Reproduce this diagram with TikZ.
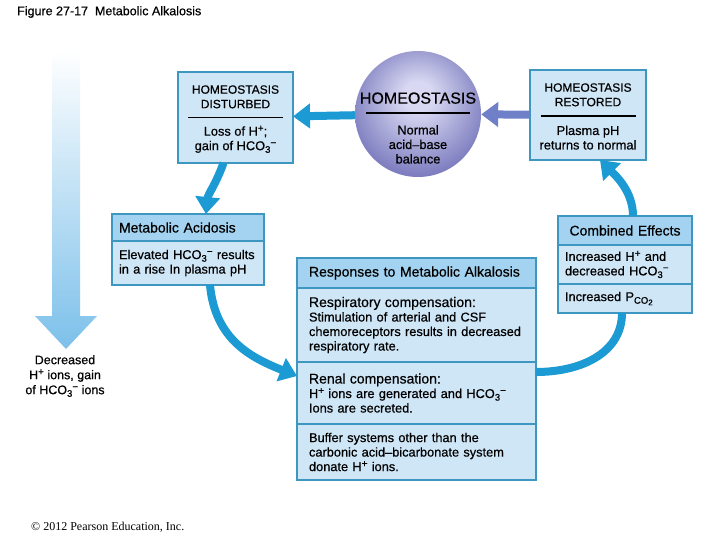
\documentclass[tikz,border=0pt]{standalone}
\usepackage{fontspec}
\setmainfont{Liberation Sans}[FakeBold=0.5]
\newfontfamily\copyfont{Liberation Serif}
\usepackage{tikz}
\usetikzlibrary{arrows.meta,positioning}
\definecolor{boxfill}{RGB}{207,230,247}
\definecolor{headfill}{RGB}{163,211,240}
\definecolor{boxline}{RGB}{61,151,192}
\definecolor{flowblue}{RGB}{27,154,211}
\definecolor{restarrow}{RGB}{112,128,200}
\definecolor{sphlight}{RGB}{216,216,242}
\definecolor{sphdark}{RGB}{104,104,180}
\definecolor{bigarrow}{RGB}{124,192,234}
\pgfdeclareradialshading{sphere}{\pgfpoint{0bp}{8bp}}{color(0bp)=(sphlight); color(6bp)=(sphlight); color(33bp)=(sphdark); color(50bp)=(sphdark)}
\newcommand{\supsm}[1]{\raisebox{4.2pt}{\fontsize{10}{10}\selectfont #1}}
\newcommand{\subsm}[1]{\raisebox{-2.6pt}{\fontsize{9.5}{10}\selectfont #1}}
\newcommand{\hion}{H\supsm{+}}
\newcommand{\hcoion}{HCO\subsm{3}\supsm{−}}
\newcommand{\bodysize}{\fontsize{12.8}{14.5}\selectfont}
\newcommand{\titlesize}{\fontsize{12}{14.5}\selectfont}
\newcommand{\headsize}{\fontsize{14}{15}\selectfont}
\newcommand{\homesize}{\fontsize{16}{18}\selectfont}

\begin{document}
\begin{tikzpicture}[x=1pt,y=-1pt,
sect/.style={draw=boxline, line width=1.4pt, fill=boxfill, outer sep=0pt, inner ysep=0pt, align=left, font=\bodysize},
head/.style={sect, fill=headfill, font=\headsize},
homebox/.style={draw=boxline, line width=1.4pt, fill=boxfill, outer sep=0pt},
txt/.style={inner sep=0pt, align=center, font=\bodysize},
ttl/.style={inner sep=0pt, align=center, font=\titlesize},
sep/.style={line width=1.6pt, black},
flow/.style={line width=8pt, flowblue, -{Triangle[length=17pt,width=24pt]}},
flowline/.style={line width=8pt, flowblue}
]
\fill[white] (0,0) rectangle (720,540);
\useasboundingbox (0,0) rectangle (720,540);

\node[anchor=west, inner sep=0pt, font=\fontsize{12.5}{14}\selectfont] (fig) at (17,12) {Figure 27-17\ \ Metabolic Alkalosis};

% top row
\node[homebox, minimum width=115pt, minimum height=91pt] (dist) at (235.5,117.5) {};
\node[ttl, above=9pt of dist.center] (distt) {HOMEOSTASIS\\DISTURBED};
\node[txt, below=8pt of dist.center] (distb) {Loss of \hion;\\gain of \hcoion};
\draw[sep] ([xshift=-47.5pt]dist.center) -- ([xshift=47.5pt]dist.center);

\node[circle, shade, shading=sphere, minimum size=126pt] (home) at (418,114) {};
\node[inner sep=0pt, font=\homesize, above=10pt of home.center] (homet) {HOMEOSTASIS};
\node[txt, below=11pt of home.center] (homeb) {Normal\\acid–base\\balance};
\draw[sep] ([xshift=-52pt,yshift=1pt]home.center) -- ([xshift=52pt,yshift=1pt]home.center);

\node[homebox, minimum width=116pt, minimum height=90pt] (rest) at (588,115) {};
\node[ttl, above=8.5pt of rest.center] (restt) {HOMEOSTASIS\\RESTORED};
\node[txt, below=10.5pt of rest.center] (restb) {Plasma pH\\returns to normal};
\draw[sep] ([xshift=-47.5pt,yshift=-1pt]rest.center) -- ([xshift=47.5pt,yshift=-1pt]rest.center);

% metabolic acidosis
\node[head, text width=138pt, inner xsep=7pt, minimum height=27pt] (acidh) at (188,227.5) {Metabolic Acidosis};
\node[sect, text width=138pt, inner xsep=7pt, minimum height=44pt, below=0pt of acidh] (acid) {Elevated \hcoion{} results\\in a rise In plasma pH};

% combined effects
\node[head, text width=120pt, inner xsep=7pt, minimum height=29pt, align=center] (combh) at (625,230.5) {Combined Effects};
\node[sect, text width=120pt, inner xsep=7pt, minimum height=39pt, below=0pt of combh] (combm) {Increased \hion{} and\\decreased \hcoion};
\node[sect, text width=120pt, inner xsep=7pt, minimum height=29pt, below=0pt of combm] (combb) {Increased P\subsm{CO\raisebox{-1.5pt}{\fontsize{8}{8}\selectfont 2}}};

% responses
\node[head, text width=215pt, inner xsep=12pt, minimum height=30pt] (resph) at (416.5,273) {Responses to Metabolic Alkalosis};
\node[sect, text width=215pt, inner xsep=12pt, minimum height=74pt, below=0pt of resph] (respa) {{\headsize Respiratory compensation:}\\Stimulation of arterial and CSF\\chemoreceptors results in decreased\\respiratory rate.};
\node[sect, text width=215pt, inner xsep=12pt, minimum height=62pt, below=0pt of respa] (renal) {{\headsize Renal compensation:}\\\hion{} ions are generated and \hcoion\\Ions are secreted.};
\node[sect, text width=215pt, inner xsep=12pt, minimum height=56pt, below=0pt of renal] (buff) {Buffer systems other than the\\carbonic acid–bicarbonate system\\donate \hion{} ions.};

% big arrow on the left
\shade[top color=white, bottom color=bigarrow] (52,50) -- (80,50) -- (80,316) -- (97,316) -- (66,349) -- (35,316) -- (52,316) -- cycle;
\node[align=center, inner sep=0pt, font=\fontsize{12.5}{15}\selectfont] (decr) at (65,376) {Decreased\\\hion{} ions, gain\\of \hcoion{} ions};

\node[anchor=west, inner sep=0pt, font=\copyfont\fontsize{12}{14}\selectfont] (copy) at (31,527) {© 2012 Pearson Education, Inc.};

% connectors
\draw[flow] (home) -- (dist);
\draw[flow, restarrow] (rest) -- (home);
\draw[flow] ([xshift=-12pt]dist.south) .. controls +(-8,22) and +(2,-20) .. ([xshift=18pt]acidh.north);
\draw[flow] ([xshift=22pt]acid.south) .. controls +(5,55) and +(-45,-18) .. ([yshift=-14pt]respa.south west);
\draw[flowline] ([yshift=-10pt]respa.south east) .. controls +(45,0) and +(0,40) .. ([xshift=-3pt]combb.south);
\draw[flow] ([xshift=8pt]combh.north) .. controls +(0,-25) and +(15,15) .. ([xshift=12pt]rest.south);
\end{tikzpicture}
\end{document}
